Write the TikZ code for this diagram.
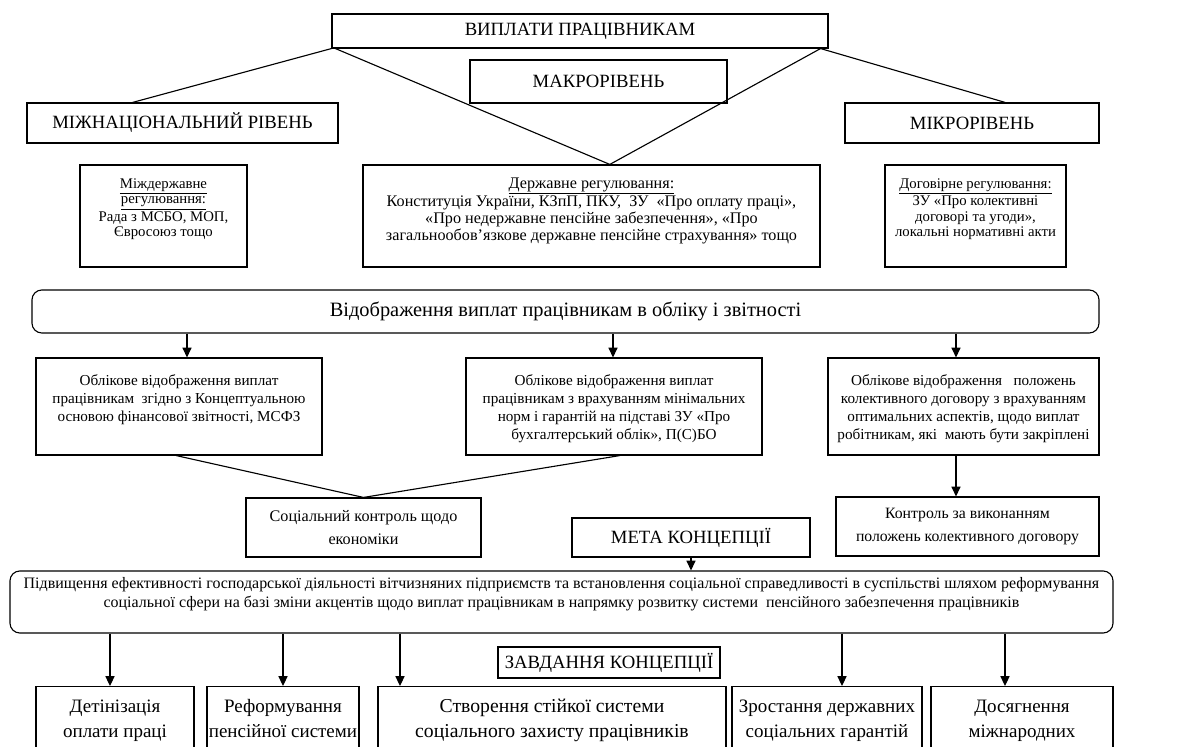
\documentclass[tikz,border=0pt]{standalone}
\usepackage{fontspec}
\setmainfont{Liberation Serif}
\usetikzlibrary{arrows.meta, calc, positioning}
\newlength{\px}\setlength{\px}{0.025cm}
\newcommand{\fs}[2]{\fontsize{#1}{#2}\selectfont}

\begin{document}
\begin{tikzpicture}[x=\px, y=-\px,
    level/.style={draw, line width=0.8pt, font=\fs{13.3pt}{15pt}, inner sep=0pt},
    frame/.style={draw, line width=0.8pt, inner sep=0pt},
    roundframe/.style={draw, line width=0.8pt, rounded corners=7pt, inner sep=0pt},
    note/.style={align=center, inner sep=0pt},
    task/.style={frame, align=center, anchor=north, minimum height=68\px,
        text height=28pt, text depth=4pt},
    link/.style={line width=0.8pt},
    move/.style={link, -{Triangle[length=7pt, width=6.5pt]}}
]
\useasboundingbox (0,0) rectangle (1192,747);
\clip (0,0) rectangle (1192,747);

% levels
\node[level, minimum width=496\px, minimum height=34\px] (pay) at (580,31) {ВИПЛАТИ ПРАЦІВНИКАМ};
\node[level, minimum width=257\px, minimum height=43\px] (macro) at (598.5,81.5) {МАКРОРІВЕНЬ};
\node[level, minimum width=311\px, minimum height=40\px] (inter) at (182.5,123) {МІЖНАЦІОНАЛЬНИЙ РІВЕНЬ};
\node[level, minimum width=254\px, minimum height=40\px] (micro) at (972,123) {МІКРОРІВЕНЬ};

% regulation
\node[frame, minimum width=167\px, minimum height=102\px] (interstate) at (163.5,216) {};
\node[note, font=\fs{10.5pt}{11pt}, below=14\px of interstate.north] (interstatetxt)
    {\underline{Міждержавне}\\ \underline{регулювання:}\\ Рада з МСБО, МОП,\\ Євросоюз тощо};
\node[frame, minimum width=457\px, minimum height=102\px] (state) at (591.5,216) {};
\node[note, font=\fs{11.5pt}{12pt}, below=13\px of state.north] (statetxt)
    {\underline{Державне регулювання:}\\ Конституція України, КЗпП, ПКУ,\ \ ЗУ\ \ «Про оплату праці»,\\
     «Про недержавне пенсійне забезпечення», «Про\\ загальнообов’язкове державне пенсійне страхування» тощо};
\node[frame, minimum width=181\px, minimum height=102\px] (contract) at (975.5,216) {};
\node[note, font=\fs{10.5pt}{11pt}, below=14\px of contract.north] (contracttxt)
    {\underline{Договірне регулювання:}\\ ЗУ «Про колективні\\ договорі та угоди»,\\ локальні нормативні акти};

\draw[link] (pay.south west) -- ($(inter.north west)!0.34!(inter.north east)$);
\draw[link] ($(pay.south west)+(4,0)$) -- ($(state.north west)!0.54!(state.north east)$);
\draw[link] ($(pay.south east)+(-8,0)$) -- ($(state.north west)!0.54!(state.north east)$);
\draw[link] ($(pay.south east)+(-8,0)$) -- ($(micro.north west)!0.63!(micro.north east)$);

% accounting
\node[roundframe, minimum width=1067\px, minimum height=43\px, font=\fs{14.5pt}{16pt}] (reflect) at (565.5,311.5)
    {Відображення виплат працівникам в обліку і звітності};
\node[frame, minimum width=286\px, minimum height=97\px] (acc1) at (179,406.5) {};
\node[note, font=\fs{10.8pt}{12.8pt}, below=17\px of acc1.north] (acc1txt)
    {Облікове відображення виплат\\ працівникам\ \ згідно з Концептуальною\\ основою фінансової звітності, МСФЗ};
\node[frame, minimum width=296\px, minimum height=97\px] (acc2) at (614,406.5) {};
\node[note, font=\fs{10.8pt}{12.8pt}, below=17\px of acc2.north] (acc2txt)
    {Облікове відображення виплат\\ працівникам з врахуванням мінімальних\\ норм і гарантій на підставі ЗУ «Про\\ бухгалтерський облік», П(С)БО};
\node[frame, minimum width=271\px, minimum height=97\px] (acc3) at (963.5,406.5) {};
\node[note, font=\fs{10.8pt}{12.8pt}, below=17\px of acc3.north] (acc3txt)
    {Облікове відображення\ \ \ положень\\ колективного договору з врахуванням\\ оптимальних аспектів, щодо виплат\\ робітникам, які\ \ мають бути закріплені};

\coordinate (dropL) at (187,0);
\coordinate (dropM) at (613,0);
\coordinate (dropR) at (956,0);
\draw[move] (reflect.south -| dropL) -- (acc1.north -| dropL);
\draw[move] (reflect.south -| dropM) -- (acc2.north -| dropM);
\draw[move] (reflect.south -| dropR) -- (acc3.north -| dropR);

% control
\node[frame, minimum width=235\px, minimum height=59\px, font=\fs{11.5pt}{16pt}, align=center] (social) at (363.5,527.5)
    {Соціальний контроль щодо\\ економіки};
\node[frame, minimum width=263\px, minimum height=59\px, font=\fs{11.2pt}{16pt}, align=center] (control) at (967.5,526.5)
    {Контроль за виконанням\\ положень колективного договору};
\draw[link] ($(acc1.south west)!0.49!(acc1.south east)$) -- (social.north);
\draw[link] ($(acc2.south west)!0.52!(acc2.south east)$) -- (social.north);
\draw[move] (acc3.south -| dropR) -- (control.north -| dropR);

% goal
\node[level, minimum width=238\px, minimum height=39\px] (goal) at (691,537.5) {МЕТА КОНЦЕПЦІЇ};
\node[roundframe, minimum width=1103\px, minimum height=62\px, font=\fs{11.35pt}{13.6pt}, align=center] (aim) at (561.5,602)
    {Підвищення ефективності господарської діяльності вітчизняних підприємств та встановлення соціальної справедливості в суспільстві шляхом реформування\\
     соціальної сфери на базі зміни акцентів щодо виплат працівникам в напрямку розвитку системи\ \ пенсійного забезпечення працівників\\};
\draw[move] (goal.south) -- (aim.north -| goal.south);

% tasks
\node[level, minimum width=222\px, minimum height=31\px] (tasks) at (609,662.5) {ЗАВДАННЯ КОНЦЕПЦІЇ};
\foreach \name/\cx/\w/\ax/\sz/\txt in {
    t1/115/158/110/13.5/{Детінізація\\ оплати праці},
    t2/283/152/283/13.5/{Реформування\\ пенсійної системи},
    t3/552/348/400/14/{Створення стійкої системи\\ соціального захисту працівників},
    t4/827/190/842/13.5/{Зростання державних\\ соціальних гарантій},
    t5/1022/182/1005/13.5/{Досягнення\\ міжнародних}}{
  \node[task, minimum width=\w\px, font=\fs{\sz pt}{18pt}] (\name) at (\cx,686) {\txt};
  \draw[move] (aim.south -| \ax,0) -- (\name.north -| \ax,0);
}
\end{tikzpicture}
\end{document}
